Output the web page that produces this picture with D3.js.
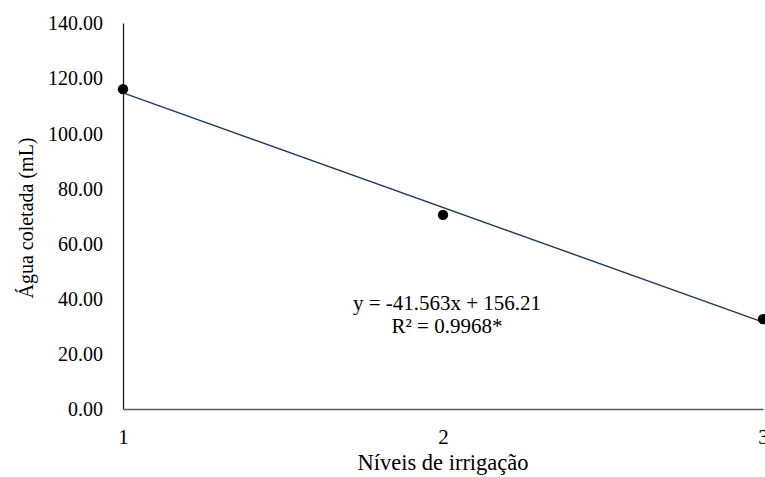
<!DOCTYPE html>
<html>
<head>
<meta charset="utf-8">
<script src="https://cdn.jsdelivr.net/npm/d3@7"></script>
<style>
  body { margin: 0; background: #fff; }
  svg text { font-family: "Liberation Serif", "Times New Roman", serif; fill: #000; }
</style>
</head>
<body>
<svg id="chart" width="765" height="477"></svg>
<script>
// data
var levels = [1, 2, 3];
var water = [116.0, 70.4, 32.6];
var yTicks = [0, 20, 40, 60, 80, 100, 120, 140];
var trend = [-41.563, 156.21]; // slope, intercept
var eqLines = ["y = -41.563x + 156.21", "R² = 0.9968*"];

var svg = d3.select("#chart");

// plot area
var pLeft = 123, pRight = 763, pTop = 23, pBottom = 409;
var fs = 20;

var x = d3.scaleLinear().domain([1, 3]).range([pLeft, pRight]);
var y = d3.scaleLinear().domain([0, 140]).range([pBottom, pTop]);

// y axis
var yAxis = svg.append("g")
    .attr("transform", "translate(" + pLeft + ",0)")
    .call(d3.axisLeft(y).tickValues(yTicks).tickSize(0).tickPadding(20)
      .tickFormat(function(d) { return d3.format(".2f")(d); }));
yAxis.select(".domain").attr("stroke", "#1a1a1a").attr("stroke-width", 1.3);
yAxis.selectAll("text").attr("font-size", fs).attr("dy", "0.34em")
    .style("font-family", "'Liberation Serif', serif").attr("fill", "#000");

// x axis
var xAxis = svg.append("g")
    .attr("transform", "translate(0," + pBottom + ")")
    .call(d3.axisBottom(x).tickValues(levels).tickSize(0).tickPadding(20)
      .tickFormat(d3.format("d")));
xAxis.select(".domain").attr("stroke", "#595959").attr("stroke-width", 1.3);
xAxis.selectAll("text").attr("font-size", 21)
    .style("font-family", "'Liberation Serif', serif").attr("fill", "#000");

// trend line
var line = d3.line()
    .x(function(d) { return x(d); })
    .y(function(d) { return y(trend[0] * d + trend[1]); });
svg.append("path")
    .datum([1, 3])
    .attr("d", line)
    .attr("fill", "none")
    .attr("stroke", "#1f3a5a")
    .attr("stroke-width", 1.4);

// points
svg.selectAll(".pt")
    .data(levels)
  .enter().append("circle")
    .attr("class", "pt")
    .attr("cx", function(d) { return x(d); })
    .attr("cy", function(d, i) { return y(water[i]); })
    .attr("r", 5.2)
    .attr("fill", "#000");

// equation
svg.selectAll(".eq")
    .data(eqLines)
  .enter().append("text")
    .attr("class", "eq")
    .attr("x", 447)
    .attr("y", function(d, i) { return 310 + i * 23; })
    .attr("text-anchor", "middle")
    .attr("font-size", 21)
    .text(function(d) { return d; });

// axis titles
svg.append("text")
    .attr("x", (pLeft + pRight) / 2)
    .attr("y", 470)
    .attr("text-anchor", "middle")
    .attr("font-size", 22.5)
    .text("Níveis de irrigação");

svg.append("text")
    .attr("transform", "translate(33,218) rotate(-90)")
    .attr("text-anchor", "middle")
    .attr("font-size", fs)
    .text("Água coletada (mL)");
</script>
</body>
</html>
